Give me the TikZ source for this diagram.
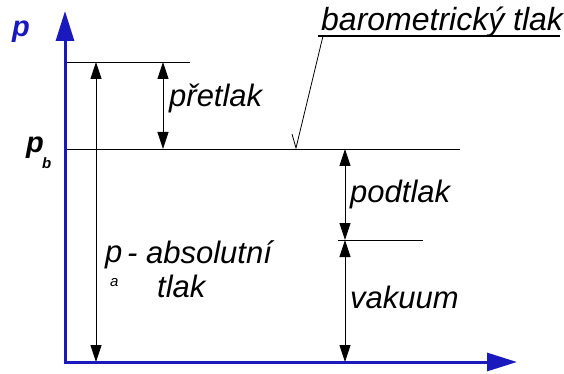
\documentclass[tikz,border=0pt]{standalone}
\usepackage{fontspec}
\setmainfont{Liberation Sans}
\usepackage{tikz}
\usetikzlibrary{arrows.meta, positioning}

\definecolor{axisblue}{RGB}{25,25,190}

\begin{document}
\begin{tikzpicture}[
    x=1pt, y=-1pt,
    axis/.style={line width=3pt, draw=axisblue, line join=miter,
        {Triangle[length=30pt,width=18pt,fill=axisblue]}-{Triangle[length=30pt,width=18pt,fill=axisblue]}},
    dim/.style={line width=0.8pt, {Triangle[length=17pt,width=11pt]}-{Triangle[length=17pt,width=11pt]}},
    ref/.style={line width=0.8pt},
    lbl/.style={font=\fontsize{31}{33}\selectfont\itshape, inner sep=0pt, anchor=base west},
    sym/.style={font=\fontsize{29}{30}\selectfont\bfseries\itshape, inner sep=0pt, anchor=base west},
    sub/.style={font=\fontsize{15}{16}\selectfont\itshape, inner sep=0pt, anchor=base west},
]
    \useasboundingbox (0,0) rectangle (564,374);

    % axes
    \coordinate (O) at (65,362);
    \coordinate (Ytip) at (65,11);
    \coordinate (Xtip) at (517,362);
    \draw[axis] (Ytip) -- (O) -- (Xtip);
    \node[sym, text=axisblue] (P) at (12,37) {p};

    % reference levels
    \coordinate (top0) at (67,62);
    \coordinate (top1) at (190,62);
    \coordinate (pb0) at (67,149);
    \coordinate (pb1) at (460,149);
    \coordinate (vac0) at (338,240);
    \coordinate (vac1) at (423,240);
    \draw[ref] (top0) -- (top1);
    \draw[ref] (pb0) -- (pb1);
    \draw[ref] (vac0) -- (vac1);

    \node[sym] (Pb) at (26,153) {p};
    \node[sub, font=\fontsize{15}{16}\selectfont\bfseries\itshape] (Pbsub) at (42,168) {b};

    % dimension arrows
    \coordinate (abs0) at (96,62);
    \coordinate (abs1) at (96,362);
    \coordinate (pre0) at (163,62);
    \coordinate (pre1) at (163,149);
    \coordinate (pod0) at (345,149);
    \coordinate (pod1) at (345,240);
    \coordinate (vak1) at (345,362);
    \draw[dim] (abs0) -- (abs1);
    \draw[dim] (pre0) -- (pre1);
    \draw[dim] (pod0) -- (pod1);
    \draw[dim] (pod1) -- (vak1);

    \node[lbl] (pretlak) at (169,107) {přetlak};
    \node[lbl] (podtlak) at (350,202) {podtlak};
    \node[lbl] (vakuum) at (350,308) {vakuum};

    \node[lbl] (Pa) at (105,262) {p};
    \node[sub] (Pasub) at (110,286) {a};
    \node[lbl] (absolut) at (127,263) {- absolutní};
    \node[lbl] (tlak) at (157,297) {tlak};

    % leader to the barometric level
    \node[lbl, font=\fontsize{32}{34}\selectfont\itshape] (baro) at (321,31) {barometrický tlak};
    \coordinate (ul0) at (318,36);
    \coordinate (ul1) at (560,36);
    \coordinate (lead) at (296,148);
    \coordinate (tick) at (292,134);
    \draw[line width=1.3pt] (ul0) -- (ul1);
    \draw[ref] (323,36) -- (lead) -- (tick);

\end{tikzpicture}
\end{document}
